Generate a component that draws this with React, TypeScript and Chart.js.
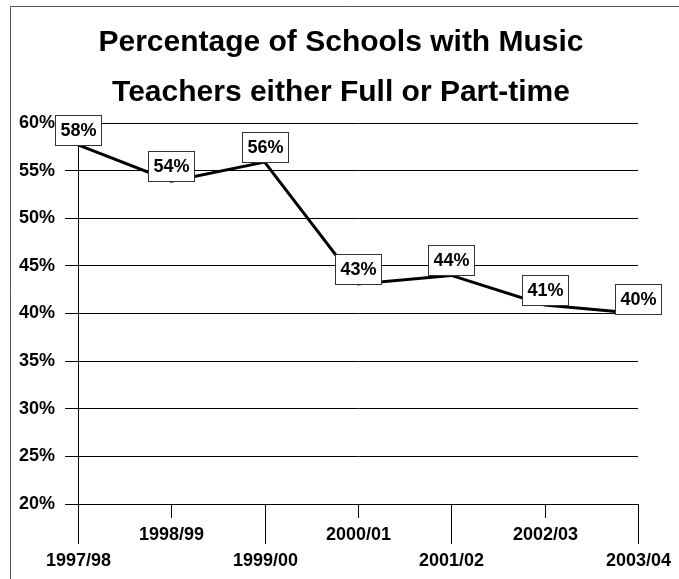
import React, { useEffect, useRef } from "react";
import { Chart, registerables } from "chart.js";

Chart.register(...registerables);

const categories = ["1997/98", "1998/99", "1999/00", "2000/01", "2001/02", "2002/03", "2003/04"];
const percentValues = [57.7, 53.9, 55.9, 43.1, 44.0, 40.9, 40.0];
const titleLines = ["Percentage of Schools with Music", "Teachers either Full or Part-time"];
const yMin = 20;
const yMax = 60;
const yStep = 5;

const FONT = '"Liberation Sans", Arial, sans-serif';

const framePlugin = {
  id: "frame",
  beforeDraw(chart: any) {
    const ctx = chart.ctx;
    ctx.save();
    ctx.strokeStyle = "#555555";
    ctx.lineWidth = 1;
    ctx.beginPath();
    ctx.moveTo(10.5, chart.height);
    ctx.lineTo(10.5, 6.5);
    ctx.lineTo(chart.width, 6.5);
    ctx.stroke();
    ctx.restore();
  },
};

const titlePlugin = {
  id: "customTitle",
  afterDraw(chart: any) {
    const ctx = chart.ctx;
    ctx.save();
    ctx.fillStyle = "#000";
    ctx.font = `bold 30px ${FONT}`;
    ctx.textAlign = "center";
    ctx.textBaseline = "alphabetic";
    const cx = 341;
    ctx.fillText(titleLines[0], cx, 51);
    ctx.fillText(titleLines[1], cx, 101);
    ctx.restore();
  },
};

const xAxisPlugin = {
  id: "xAxisStagger",
  afterDraw(chart: any) {
    const ctx = chart.ctx;
    const xs = chart.scales.x;
    const bottom = chart.chartArea.bottom;
    ctx.save();
    ctx.strokeStyle = "#000";
    ctx.lineWidth = 1;
    ctx.fillStyle = "#000";
    ctx.font = `bold 18px ${FONT}`;
    ctx.textAlign = "center";
    ctx.textBaseline = "middle";
    categories.forEach((c, i) => {
      const x = Math.round(xs.getPixelForValue(i)) + 0.5;
      const long = i % 2 === 0;
      ctx.beginPath();
      ctx.moveTo(x, bottom);
      ctx.lineTo(x, bottom + (long ? 40 : 14));
      ctx.stroke();
      ctx.fillText(c, x, bottom + (long ? 57 : 31));
    });
    ctx.restore();
  },
};

const dataLabelPlugin = {
  id: "boxLabels",
  afterDatasetsDraw(chart: any) {
    const ctx = chart.ctx;
    const meta = chart.getDatasetMeta(0);
    ctx.save();
    ctx.font = `bold 18px ${FONT}`;
    ctx.textAlign = "center";
    ctx.textBaseline = "middle";
    meta.data.forEach((pt: any, i: number) => {
      const text = Math.round(percentValues[i]) + "%";
      const w = Math.ceil(ctx.measureText(text).width) + 9;
      const h = 30;
      const x = Math.round(pt.x - w / 2) + 0.5;
      const y = Math.round(pt.y - h) + 0.5;
      ctx.fillStyle = "#fff";
      ctx.fillRect(x, y, w, h);
      ctx.strokeStyle = "#333";
      ctx.lineWidth = 1;
      ctx.strokeRect(x, y, w, h);
      ctx.fillStyle = "#000";
      ctx.fillText(text, x + w / 2, y + h / 2 + 1);
    });
    ctx.restore();
  },
};

export default function App() {
  const ref = useRef<HTMLCanvasElement | null>(null);
  useEffect(() => {
    if (!ref.current) return;
    const chart = new Chart(ref.current, {
      type: "line",
      data: {
        labels: categories,
        datasets: [
          {
            data: percentValues,
            borderColor: "#000",
            borderWidth: 3,
            pointRadius: 0,
            tension: 0,
            fill: false,
          },
        ],
      },
      options: {
        animation: false,
        responsive: false,
        layout: { padding: { top: 123, right: 41, left: 0, bottom: 0 } },
        plugins: {
          legend: { display: false },
          title: { display: false },
          tooltip: { enabled: false },
        },
        scales: {
          x: {
            type: "category",
            offset: false,
            grid: { display: false, drawTicks: false },
            border: { display: true, color: "#000", width: 1 },
            ticks: { display: false },
            afterFit: (s: any) => {
              s.height = 75;
            },
          },
          y: {
            min: yMin,
            max: yMax,
            grid: { color: "#000", lineWidth: 1, tickLength: 13, drawTicks: true },
            border: { display: true, color: "#000", width: 1 },
            ticks: {
              stepSize: yStep,
              padding: 10,
              color: "#000",
              font: { family: FONT, size: 18, weight: "bold" },
              callback: (v: any) => v + "%",
            },
            afterFit: (s: any) => {
              s.width = 78;
            },
          },
        },
      },
      plugins: [framePlugin, titlePlugin, xAxisPlugin, dataLabelPlugin],
    } as any);
    return () => chart.destroy();
  }, []);
  return (
    <div style={{ position: "absolute", left: 0, top: 0, width: 679, height: 579, background: "#fff" }}>
      <canvas ref={ref} width={679} height={579} />
    </div>
  );
}
